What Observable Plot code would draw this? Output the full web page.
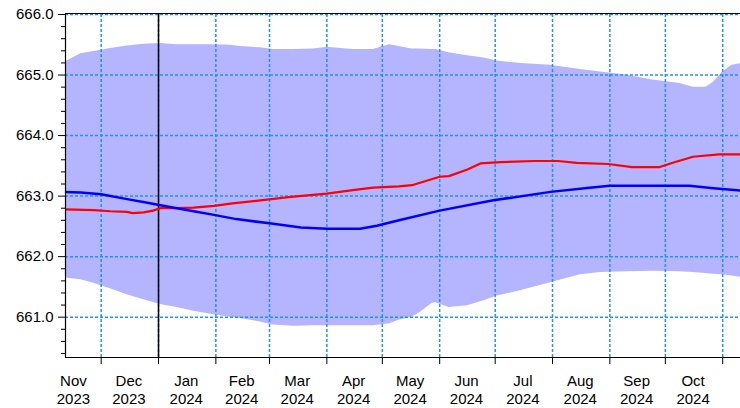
<!DOCTYPE html>
<html><head><meta charset="utf-8">
<script src="https://cdn.jsdelivr.net/npm/d3@7"></script>
<script src="https://cdn.jsdelivr.net/npm/@observablehq/plot@0.6"></script>
<style>body{margin:0;background:#fff}</style>
</head><body><div id="chart"></div>
<script>
// ---- data ----
const bandDates = ["2023-11-11","2023-11-20","2023-11-27","2023-12-01","2023-12-06","2023-12-15","2023-12-24","2024-01-02","2024-01-11","2024-01-20","2024-01-31","2024-02-09","2024-02-14","2024-02-25","2024-03-03","2024-03-14","2024-03-25","2024-04-01","2024-04-15","2024-04-26","2024-05-05","2024-05-10","2024-05-17","2024-05-21","2024-05-28","2024-05-30","2024-06-06","2024-06-16","2024-06-25","2024-07-02","2024-07-15","2024-07-31","2024-08-16","2024-08-27","2024-09-10","2024-09-24","2024-10-09","2024-10-16","2024-10-23","2024-10-27","2024-11-01","2024-11-06","2024-11-11"];
const bandUpper = [665.21,665.35,665.39,665.41,665.44,665.48,665.51,665.52,665.50,665.50,665.50,665.49,665.47,665.45,665.42,665.42,665.43,665.46,665.42,665.42,665.50,665.47,665.43,665.43,665.42,665.42,665.37,665.32,665.28,665.23,665.19,665.16,665.09,665.05,665.00,664.92,664.86,664.80,664.80,664.88,665.05,665.16,665.19];
const bandLower = [661.65,661.62,661.56,661.52,661.47,661.37,661.29,661.21,661.16,661.10,661.04,661.00,660.98,660.92,660.87,660.85,660.86,660.86,660.86,660.86,660.89,660.95,661.00,661.07,661.23,661.24,661.16,661.19,661.27,661.35,661.44,661.57,661.70,661.74,661.75,661.76,661.75,661.74,661.72,661.71,661.70,661.68,661.66];

const redDates = ["2023-11-11","2023-11-27","2023-12-06","2023-12-15","2023-12-18","2023-12-24","2023-12-29","2024-01-02","2024-01-11","2024-01-20","2024-01-31","2024-02-10","2024-02-25","2024-03-14","2024-04-01","2024-04-15","2024-04-26","2024-05-10","2024-05-17","2024-06-01","2024-06-06","2024-06-16","2024-06-23","2024-07-04","2024-07-22","2024-08-04","2024-08-14","2024-08-31","2024-09-13","2024-09-28","2024-10-05","2024-10-16","2024-10-30","2024-11-11"];
const redValues = [662.78,662.77,662.75,662.74,662.72,662.73,662.76,662.80,662.80,662.81,662.84,662.88,662.93,662.99,663.04,663.10,663.14,663.16,663.18,663.32,663.33,663.44,663.54,663.56,663.58,663.58,663.55,663.53,663.48,663.48,663.55,663.65,663.69,663.69];

const blueDates = ["2023-11-11","2023-11-20","2023-12-01","2023-12-15","2023-12-26","2024-01-02","2024-01-11","2024-01-20","2024-01-31","2024-02-12","2024-03-01","2024-03-18","2024-04-01","2024-04-19","2024-04-28","2024-05-10","2024-06-01","2024-06-30","2024-07-31","2024-08-21","2024-09-01","2024-10-14","2024-10-27","2024-11-11"];
const blueValues = [663.07,663.06,663.03,662.95,662.89,662.85,662.80,662.75,662.69,662.62,662.55,662.48,662.46,662.46,662.51,662.60,662.76,662.93,663.07,663.14,663.17,663.17,663.13,663.09];

const monthTicks = ["2023-12-01","2024-01-01","2024-02-01","2024-03-01","2024-04-01","2024-05-01","2024-06-01","2024-07-01","2024-08-01","2024-09-01","2024-10-01","2024-11-01"];
const monthLabelDates = ["2023-11-16","2023-12-16","2024-01-16","2024-02-15","2024-03-16","2024-04-15T12:00","2024-05-16","2024-06-15T12:00","2024-07-16","2024-08-16","2024-09-15T12:00","2024-10-16"];
const monthLabels = ["Nov\n2023","Dec\n2023","Jan\n2024","Feb\n2024","Mar\n2024","Apr\n2024","May\n2024","Jun\n2024","Jul\n2024","Aug\n2024","Sep\n2024","Oct\n2024"];
const yMajorTicks = [661, 662, 663, 664, 665, 666];
const yMinorTicks = [660.4,660.6,660.8,661.2,661.4,661.6,661.8,662.2,662.4,662.6,662.8,663.2,663.4,663.6,663.8,664.2,664.4,664.6,664.8,665.2,665.4,665.6,665.8];
const markerDate = "2024-01-01";
const xDomain = ["2023-11-11T17:00", "2024-11-10T15:00"];
const yDomain = [660.334, 666];

// ---- build ----
const D = s => new Date(s.length > 10 ? s + "Z" : s + "T00:00Z");
const band = bandDates.map((d, i) => ({date: D(d), hi: bandUpper[i], lo: bandLower[i]}));
const red = redDates.map((d, i) => ({date: D(d), v: redValues[i]}));
const blue = blueDates.map((d, i) => ({date: D(d), v: blueValues[i]}));
const mTicks = monthTicks.map(D);
const labels = monthLabelDates.map((d, i) => ({date: D(d), t: monthLabels[i]}));
const grid = "#1e90ff";

const chart = Plot.plot({
  width: 740, height: 408,
  marginLeft: 65, marginRight: 0, marginTop: 14, marginBottom: 51,
  style: {fontFamily: "'Liberation Sans', Arial, sans-serif", fontSize: "15px", color: "black", background: "white"},
  x: {type: "utc", domain: xDomain.map(D), axis: null},
  y: {domain: yDomain, axis: null},
  marks: [
    Plot.areaY(band, {x: "date", y1: "lo", y2: "hi", fill: "#b4b4ff", clip: true}),
    Plot.ruleX(mTicks, {stroke: grid, strokeWidth: 1.5, strokeDasharray: "3,2"}),
    Plot.ruleY(yMajorTicks, {stroke: grid, strokeWidth: 1.5, strokeDasharray: "3,2"}),
    Plot.ruleX([D(markerDate)], {stroke: "black", strokeWidth: 1.5}),
    Plot.lineY(red, {x: "date", y: "v", stroke: "#ff0000", strokeWidth: 2.2, clip: true}),
    Plot.lineY(blue, {x: "date", y: "v", stroke: "#0000ff", strokeWidth: 2.5, clip: true}),
    Plot.ruleX([D(xDomain[0])], {stroke: "black", strokeWidth: 1.2}),
    Plot.ruleY([yDomain[0]], {stroke: "black", strokeWidth: 1.2}),
    Plot.ruleY([yDomain[1]], {stroke: "black", strokeWidth: 1.2, dy: -1}),
    Plot.axisY(yMajorTicks, {tickSize: 7, tickPadding: 5, tickFormat: d => d.toFixed(1), fontSize: 15}),
    Plot.axisY(yMinorTicks, {tickSize: 4, tickFormat: () => ""}),
    Plot.axisX(mTicks, {tickSize: 7, tickFormat: () => ""}),
    Plot.text(labels, {x: "date", text: "t", frameAnchor: "bottom", dy: 15, lineAnchor: "top", lineHeight: 1.22, fontSize: 15, fill: "black"})
  ]
});
document.getElementById("chart").append(chart);
</script>
</body></html>
